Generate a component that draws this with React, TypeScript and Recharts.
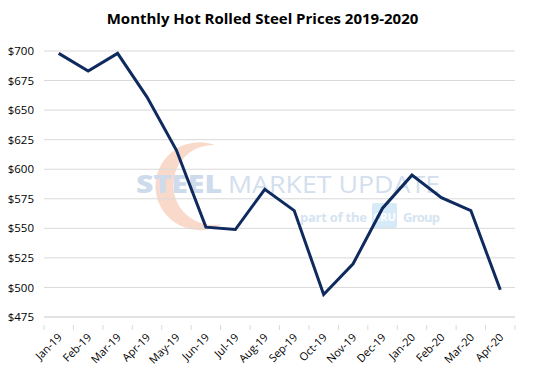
import { LineChart, Line, XAxis, YAxis, CartesianGrid } from 'recharts';

const months = [
  'Jan-19', 'Feb-19', 'Mar-19', 'Apr-19', 'May-19', 'Jun-19', 'Jul-19', 'Aug-19',
  'Sep-19', 'Oct-19', 'Nov-19', 'Dec-19', 'Jan-20', 'Feb-20', 'Mar-20', 'Apr-20',
];
const prices = [698, 683, 698, 661, 616, 551, 549, 583, 565, 494, 520, 567, 595, 576, 565, 498];
const priceTicks = [475, 500, 525, 550, 575, 600, 625, 650, 675, 700];

const data = months.map((month, i) => ({ month, price: prices[i] }));

const W = 560;
const H = 374;
const M = { top: 51, right: 45, bottom: 0, left: 0 };
const X_H = 57;
const Y_W = 44;
const STEP = (W - M.right - Y_W) / months.length;
const FONT = '"Open Sans", sans-serif';

function MonthTick(props: any) {
  const { x, y, payload, index } = props;
  return (
    <g>
      <line x1={x - STEP / 2} x2={x - STEP / 2} y1={y} y2={y + 5} stroke="#d9d9d9" />
      {index === months.length - 1 && (
        <line x1={x + STEP / 2} x2={x + STEP / 2} y1={y} y2={y + 5} stroke="#d9d9d9" />
      )}
      <text
        x={x + 4}
        y={y + 13}
        transform={`rotate(-45 ${x + 4} ${y + 13})`}
        textAnchor="end"
        fontSize={11}
        fontFamily={FONT}
        fill="#000"
      >
        {payload.value}
      </text>
    </g>
  );
}

function Watermark() {
  return (
    <svg width={W} height={H} style={{ position: 'absolute', left: 0, top: 0 }}>
      <path
        d="M 215 145 A 40 40 0 1 0 222 224 A 44 44 0 1 1 215 145 Z"
        fill="#f6c9b4"
        opacity={0.7}
      />
      <text x={136} y={193} fontFamily={FONT} fontSize={24} fontWeight={800} fill="#cddbec" textLength={86} lengthAdjust="spacingAndGlyphs">
        STEEL
      </text>
      <text x={228} y={193} fontFamily={FONT} fontSize={24} fill="#d3dfee" textLength={212} lengthAdjust="spacingAndGlyphs">
        MARKET UPDATE
      </text>
      <text x={300} y={222} fontFamily={FONT} fontSize={13} fontWeight={700} fill="#d5e4f1" textLength={67}>
        part of the
      </text>
      <rect x={372} y={203} width={25} height={25} rx={2} fill="#d6eaf7" />
      <text x={384.5} y={221} textAnchor="middle" fontFamily={FONT} fontSize={11} fontWeight={700} fill="#ffffff">
        CRU
      </text>
      <text x={403} y={222} fontFamily={FONT} fontSize={13} fontWeight={700} fill="#d5e4f1" textLength={37}>
        Group
      </text>
    </svg>
  );
}

export default function App() {
  return (
    <div style={{ position: 'relative', width: W, height: H, background: '#fff' }}>
      <style>{'body{margin:0}'}</style>
      <Watermark />
      <div
        style={{
          position: 'absolute',
          top: 8,
          left: 0,
          width: 525,
          textAlign: 'center',
          fontFamily: FONT,
          fontWeight: 700,
          fontSize: 15,
          color: '#000',
        }}
      >
        Monthly Hot Rolled Steel Prices 2019-2020
      </div>
      <div style={{ position: 'absolute', left: 0, top: 0 }}>
        <LineChart width={W} height={H} data={data} margin={M}>
          <CartesianGrid vertical={false} stroke="#d9d9d9" />
          <XAxis
            dataKey="month"
            interval={0}
            padding={{ left: STEP / 2, right: STEP / 2 }}
            axisLine={{ stroke: '#d9d9d9' }}
            tickLine={false}
            tick={<MonthTick />}
            height={X_H}
          />
          <YAxis
            width={Y_W}
            domain={[475, 700]}
            ticks={priceTicks}
            axisLine={false}
            tickLine={false}
            tickSize={0}
            tickMargin={10}
            tickFormatter={(v) => `$${v}`}
            tick={{ fontSize: 11.5, fontFamily: FONT, fill: '#000' }}
          />
          <Line
            type="linear"
            dataKey="price"
            stroke="#0e2a5e"
            strokeWidth={3}
            dot={false}
            isAnimationActive={false}
          />
        </LineChart>
      </div>
    </div>
  );
}
